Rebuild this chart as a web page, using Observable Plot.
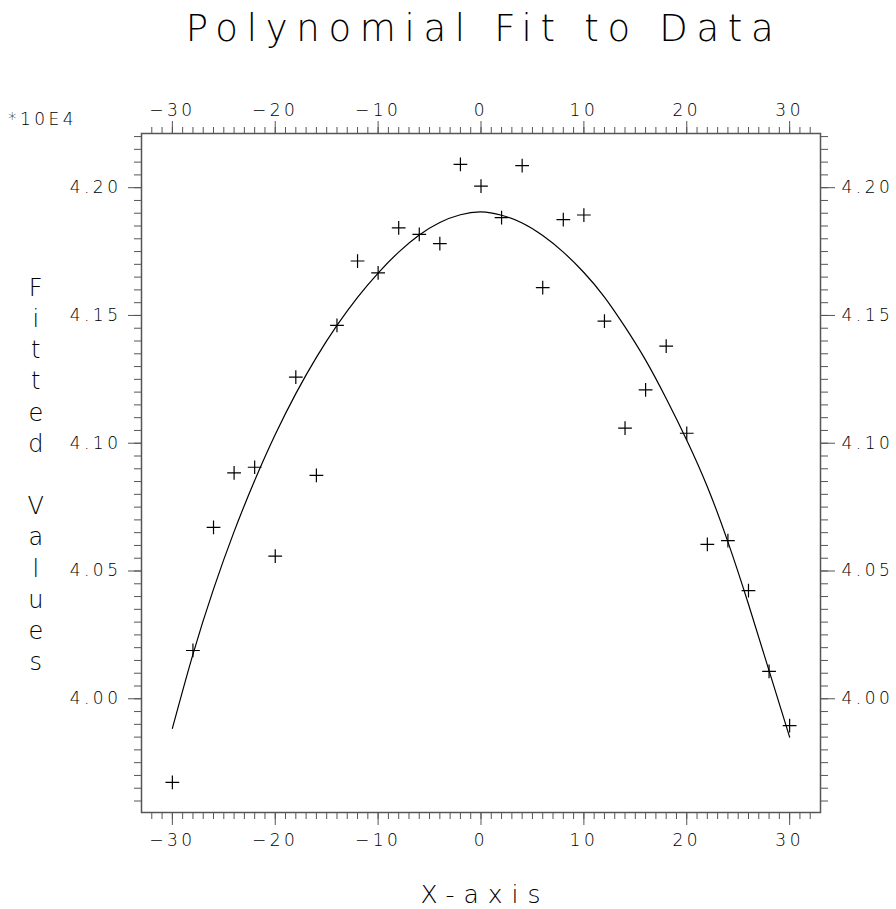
<!DOCTYPE html>
<html>
<head>
<meta charset="utf-8">
<script src="https://cdn.jsdelivr.net/npm/d3@7"></script>
<script src="https://cdn.jsdelivr.net/npm/@observablehq/plot@0.6"></script>
<style>
  body { margin: 0; background: #fff; }
  #wrap { width: 896px; height: 909px; position: relative; overflow: hidden; }
  #title {
    height: 70px; width: 896px; box-sizing: border-box;
    padding-left: 72px; padding-top: 9px;
    text-align: center; font-family: "DejaVu Sans", sans-serif; font-weight: 200;
    font-size: 37px; letter-spacing: 8.7px; color: #000; line-height: 40px;
  }
  svg { display: block; }
</style>
</head>
<body>
<div id="wrap">
  <div id="title"></div>
  <div id="chart"></div>
</div>
<script>
// ---- data (values in units of 10^4) ----
const titleText = "Polynomial Fit to Data";
const xLabel = "X-axis";
const yLabel = "Fitted Values";
const scaleNote = "*10E4";

const xValues = [-30,-28,-26,-24,-22,-20,-18,-16,-14,-12,-10,-8,-6,-4,-2,0,2,4,6,8,10,12,14,16,18,20,22,24,26,28,30];
const observed = [3.9673,4.0189,4.0671,4.0884,4.0906,4.0558,4.1259,4.0874,4.1461,4.1713,4.1667,4.1843,4.1817,4.1781,4.2091,4.2006,4.1883,4.2086,4.1609,4.1875,4.1893,4.1478,4.1059,4.1209,4.1380,4.1039,4.0604,4.0619,4.0423,4.0107,3.9895];
const fitted = [3.9884,4.0174,4.0429,4.0654,4.0854,4.1034,4.1194,4.1336,4.1461,4.1571,4.1666,4.1748,4.1815,4.1864,4.1894,4.1905,4.1892,4.1862,4.1813,4.1748,4.1668,4.1572,4.1455,4.1325,4.1175,4.1012,4.0830,4.0614,4.0370,4.0110,3.9850];

const xTicks = [-30,-20,-10,0,10,20,30];
const yTicks = [4.00,4.05,4.10,4.15,4.20];
const xMinor = d3.range(-32, 33);            // every 1 unit
const yMinor = d3.range(792, 845).map(d => d / 200); // every 0.005

const pts = xValues.map((x, i) => ({x, y: observed[i]}));
const fit = xValues.map((x, i) => ({x, y: fitted[i]}));

document.getElementById("title").textContent = titleText;

const ink = "#000";
const tickColor = "#555";
const font = "DejaVu Sans, sans-serif";

const plot = Plot.plot({
  width: 896,
  height: 839,
  marginTop: 63,
  marginBottom: 97,
  marginLeft: 141,
  marginRight: 76,
  x: {domain: [-33, 33]},
  y: {domain: [3.9555, 4.2212]},
  style: {fontFamily: font, fontWeight: 200, color: ink, background: "#fff", overflow: "visible", letterSpacing: "3.5px"},
  marks: [
    // minor ticks
    Plot.axisX(xMinor, {anchor: "bottom", tickSize: 7, text: null, label: null, stroke: tickColor}),
    Plot.axisX(xMinor, {anchor: "top", tickSize: 7, text: null, label: null, stroke: tickColor}),
    Plot.axisY(yMinor, {anchor: "left", tickSize: 7, text: null, label: null, stroke: tickColor}),
    Plot.axisY(yMinor, {anchor: "right", tickSize: 7, text: null, label: null, stroke: tickColor}),
    // major ticks + labels
    Plot.axisX(xTicks, {anchor: "bottom", tickSize: 13, tickPadding: 8, label: null, stroke: tickColor, fill: ink, fontSize: 17}),
    Plot.axisX(xTicks, {anchor: "top", tickSize: 13, tickPadding: 5, label: null, stroke: tickColor, fill: ink, fontSize: 17}),
    Plot.axisY(yTicks, {anchor: "left", tickSize: 13, tickPadding: 7, label: null, stroke: tickColor, fill: ink, fontSize: 17, tickFormat: d3.format(".2f")}),
    Plot.axisY(yTicks, {anchor: "right", tickSize: 14, tickPadding: 7, label: null, stroke: tickColor, fill: ink, fontSize: 17, tickFormat: d3.format(".2f")}),
    Plot.frame({stroke: tickColor, strokeWidth: 1.5}),
    // fitted curve
    Plot.line(fit, {x: "x", y: "y", curve: "natural", stroke: "#000", strokeWidth: 1.2}),
    // observations
    Plot.dot(pts, {x: "x", y: "y", symbol: "plus", r: 4.5, stroke: "#000", fill: "none", strokeWidth: 1.2}),
    // labels
    Plot.text([scaleNote], {frameAnchor: "top-left", textAnchor: "middle", dx: -99, dy: -21, fontSize: 17, fill: ink}),
    Plot.text([xLabel], {frameAnchor: "bottom", dx: 4, dy: 90, fontSize: 25, fill: ink}),
    Plot.text([yLabel], {frameAnchor: "left", textAnchor: "middle", dx: -104, text: d => d.split("").join("\n"), lineHeight: 1.3, fontSize: 24, fill: ink})
  ]
});
// wider letter spacing for the axis title, like the stroked plotter font
d3.select(plot).selectAll("text").filter(function() { return this.textContent === xLabel; })
  .style("letter-spacing", "9px");
document.getElementById("chart").appendChild(plot);
</script>
</body>
</html>
